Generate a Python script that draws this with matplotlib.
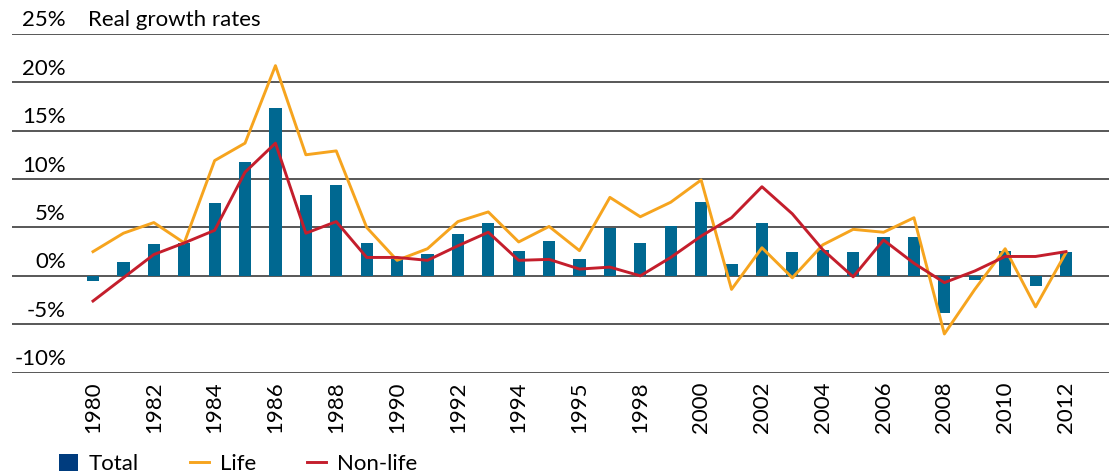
import matplotlib
matplotlib.use('Agg')
import matplotlib.pyplot as plt
from matplotlib.patches import Patch
from matplotlib.lines import Line2D

# ---------------- data ----------------
years = list(range(1980, 2013))
total = [-0.5, 1.4, 3.3, 3.4, 7.5, 11.8, 17.3, 8.3, 9.4, 3.4,
         1.7, 2.3, 4.3, 5.5, 2.6, 3.6, 1.7, 4.9, 3.4, 5.1,
         7.6, 1.2, 5.5, 2.5, 2.7, 2.5, 4.0, 4.0, -3.8, -0.4,
         2.6, -1.0, 2.5]
life = [2.5, 4.4, 5.5, 3.4, 11.9, 13.7, 21.7, 12.5, 12.9, 5.0,
        1.6, 2.8, 5.6, 6.6, 3.5, 5.1, 2.6, 8.1, 6.1, 7.6,
        9.9, -1.4, 2.9, -0.2, 3.2, 4.8, 4.5, 6.0, -6.0, -1.4,
        2.8, -3.2, 2.4]
nonlife = [-2.6, -0.2, 2.2, 3.4, 4.7, 10.7, 13.7, 4.4, 5.6, 1.9,
           1.9, 1.6, 3.1, 4.5, 1.6, 1.7, 0.7, 0.9, 0.0, 1.9,
           4.1, 6.0, 9.2, 6.4, 2.7, -0.1, 3.7, 1.3, -0.7, 0.5,
           2.0, 2.0, 2.5]
tick_labels = ['1980', '1982', '1984', '1986', '1988', '1990', '1992', '1994',
               '1995', '1998', '2000', '2002', '2004', '2006', '2008', '2010', '2012']
y_ticks = [-10, -5, 0, 5, 10, 15, 20, 25]
title = 'Real growth rates'
series_names = ['Total', 'Life', 'Non-life']

# ---------------- style ----------------
BAR = '#006891'
LEG_BAR = '#003C7E'
ORANGE = '#F6A41E'
RED = '#C41E2C'
GRID = '#2a2a2a'
FS = 16
LW = 2.1
plt.rcParams['font.family'] = ['Lato', 'DejaVu Sans']

W, H = 1109, 473
fig = plt.figure(figsize=(W / 100, H / 100), dpi=100)
left_px, right_px = 12, 1109
top_px, bot_px = 33.7, 372.7
ax = fig.add_axes([left_px / W, 1 - bot_px / H, (right_px - left_px) / W, (bot_px - top_px) / H])

x = list(range(len(years)))
ax.bar(x, total, width=0.4, color=BAR, zorder=2)
ax.plot(x, life, color=ORANGE, lw=LW, zorder=3)
ax.plot(x, nonlife, color=RED, lw=LW, zorder=4)

px_per = 30.4
ax.set_xlim(-(93 - left_px) / px_per, len(years) - 1 + (right_px - 1066) / px_per)
ax.set_ylim(y_ticks[0], y_ticks[-1])

for v in y_ticks:
    ax.axhline(v, color=GRID, lw=1.1, zorder=1)

for s in ax.spines.values():
    s.set_visible(False)
ax.set_yticks([])
ax.set_xticks(x[::2])
ax.set_xticklabels(tick_labels, rotation=90, fontsize=FS, va='top', ha='center')
ax.tick_params(axis='x', length=0, pad=6)

ytr = ax.get_yaxis_transform()
lab_x = (66 - left_px) / (right_px - left_px)
for v in y_ticks:
    ax.text(lab_x, v + 0.35, f'{v}%', transform=ytr, ha='right', va='bottom', fontsize=FS)
ax.text((88 - left_px) / (right_px - left_px), y_ticks[-1] + 0.35, title,
        transform=ytr, ha='left', va='bottom', fontsize=FS)

handles = [Patch(facecolor=LEG_BAR, edgecolor='none'),
           Line2D([], [], color=ORANGE, lw=LW),
           Line2D([], [], color=RED, lw=LW)]
fig.legend(handles, series_names, loc='lower left', bbox_to_anchor=(50 / W, -10 / H),
           ncol=3, frameon=False, fontsize=FS, handlelength=0.85, handleheight=0.85,
           handletextpad=0.5, columnspacing=2.3, borderaxespad=0)

fig.savefig('out.png', dpi=100)
